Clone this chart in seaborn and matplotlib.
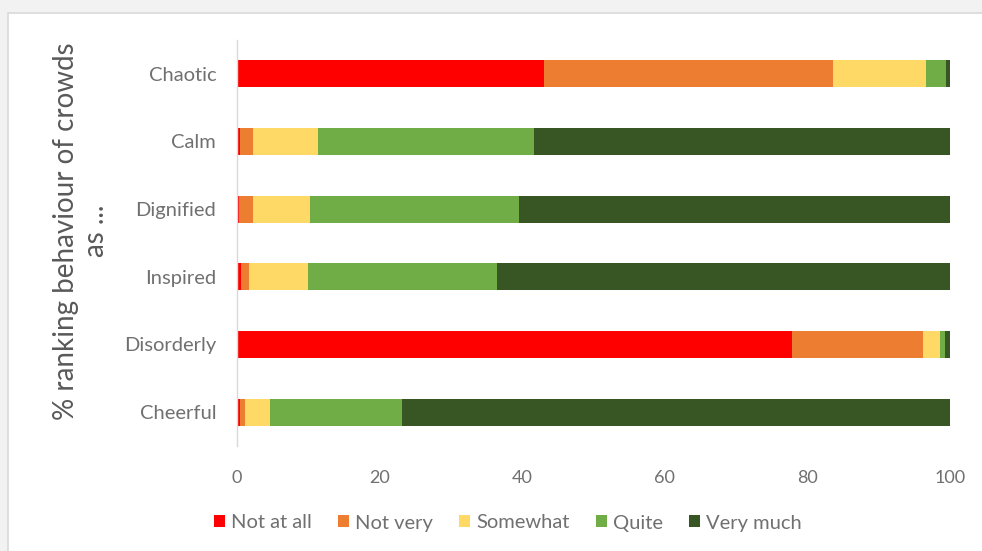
import matplotlib
matplotlib.use("Agg")
import matplotlib.pyplot as plt
from matplotlib.patches import Rectangle, Patch
import numpy as np
import pandas as pd
import seaborn as sns

# Survey responses: share of respondents rating crowd behaviour (%)
categories = ["Chaotic", "Calm", "Dignified", "Inspired", "Disorderly", "Cheerful"]
levels = ["Not at all", "Not very", "Somewhat", "Quite", "Very much"]
not_at_all = [43.0, 0.4, 0.3, 0.5, 77.9, 0.4]
not_very = [40.6, 1.9, 2.0, 1.2, 18.3, 0.7]
somewhat = [13.1, 9.1, 7.9, 8.2, 2.4, 3.5]
quite = [2.8, 30.2, 29.3, 26.5, 0.7, 18.5]
very_much = [0.5, 58.4, 60.5, 63.6, 0.7, 76.9]
x_ticks = [0, 20, 40, 60, 80, 100]

colors = ["#ff0000", "#ed7d31", "#ffd966", "#70ad47", "#375623"]
text_grey = "#707070"

sns.set_theme(style="white")
plt.rcParams["font.family"] = ["Lato", "DejaVu Sans"]

df = pd.DataFrame(
    {"Category": categories, "Not at all": not_at_all, "Not very": not_very,
     "Somewhat": somewhat, "Quite": quite, "Very much": very_much}
)
cum = df[levels].cumsum(axis=1)
cum["Category"] = df["Category"]

fig = plt.figure(figsize=(9.82, 5.51), dpi=100)
fig.patch.set_facecolor("#f2f2f2")
W, H = 982, 551
fig.patches.append(Rectangle((8 / W, -0.05), 1.1, 1 - 13 / H + 0.05,
                             transform=fig.transFigure, facecolor="white",
                             edgecolor="#d9d9d9", linewidth=1.2, zorder=-10))

ax = fig.add_axes([237 / W, 1 - 446 / H, (950 - 237) / W, (446 - 40) / H])
ax.set_zorder(5)
ax.set_facecolor("none")

# Stacked bars: draw cumulative totals from the outermost segment inwards
for level, color in reversed(list(zip(levels, colors))):
    sns.barplot(data=cum, x=level, y="Category", order=categories,
                color=color, orient="h", width=0.4, saturation=1,
                linewidth=0, ax=ax)

ax.set_xlim(0, 100)
ax.set_ylim(len(categories) - 0.5, -0.5)
ax.set_xticks(x_ticks)
ax.set_xticklabels([str(t) for t in x_ticks])
ax.set_xlabel("")
ax.set_ylabel("")
ax.tick_params(axis="x", length=0, pad=17, labelsize=13, labelcolor=text_grey)
ax.tick_params(axis="y", length=0, pad=15, labelsize=14.5, labelcolor=text_grey)
for side in ["top", "right", "bottom"]:
    ax.spines[side].set_visible(False)
ax.spines["left"].set_color("#d9d9d9")
ax.spines["left"].set_linewidth(1.0)

fig.text(81 / W, 1 - 231 / H, "% ranking behaviour of crowds\nas ...",
         rotation=90, ha="center", va="center", multialignment="center",
         fontsize=20, color="#595959", linespacing=1.15)

handles = [Patch(facecolor=c, edgecolor="none", label=l) for l, c in zip(levels, colors)]
fig.legend(handles=handles, loc="center", bbox_to_anchor=(508 / W, 1 - 523 / H),
           ncol=5, frameon=False, fontsize=14.5, labelcolor=text_grey,
           handlelength=0.55, handleheight=0.55, handletextpad=0.3,
           columnspacing=1.3)

fig.savefig("out.png", dpi=100, facecolor=fig.get_facecolor())
